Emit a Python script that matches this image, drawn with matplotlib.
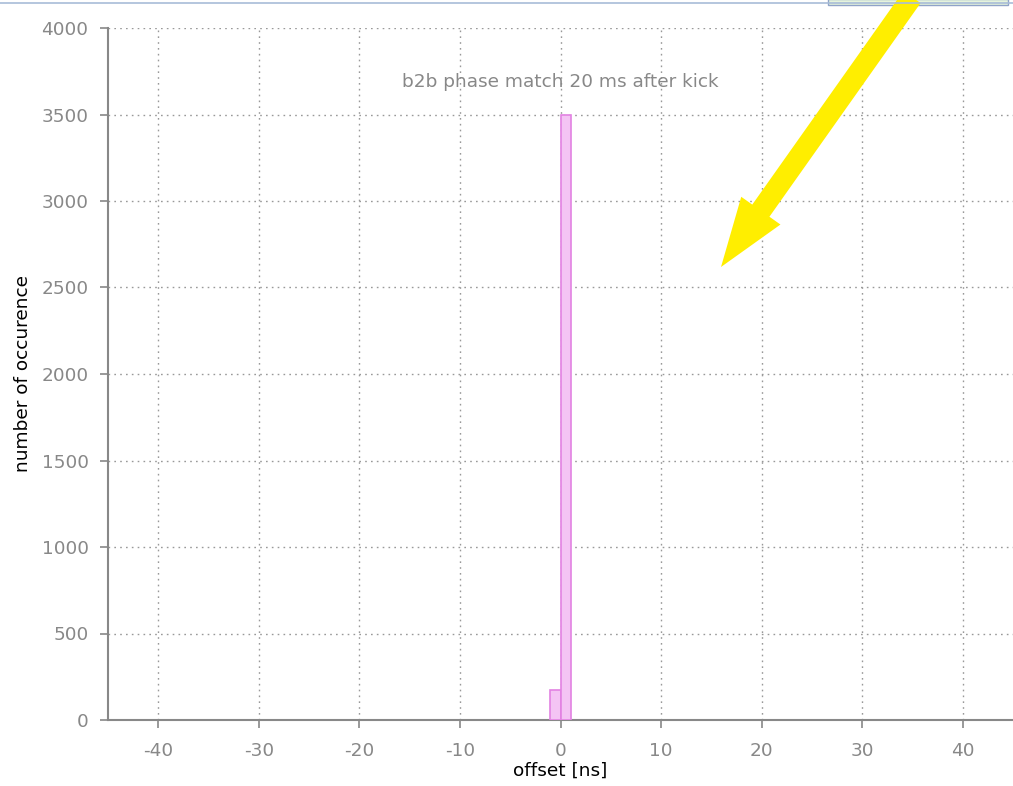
import matplotlib
matplotlib.use("Agg")
import matplotlib.pyplot as plt
from matplotlib.patches import FancyArrow, Rectangle
from matplotlib.transforms import IdentityTransform
from matplotlib.lines import Line2D

plt.rcParams["axes.unicode_minus"] = False

# data
bin_left = [-1, 0]
counts = [175, 3500]
bin_width = 1
x_ticks = [-40, -30, -20, -10, 0, 10, 20, 30, 40]
y_ticks = [0, 500, 1000, 1500, 2000, 2500, 3000, 3500, 4000]
title = "b2b phase match 20 ms after kick"

FS = 13.3
W, H = 1013, 786
fig = plt.figure(figsize=(W / 100, H / 100), dpi=100)
ax = fig.add_axes([108 / W, 1 - 720 / H, 1 - 108 / W, (720 - 28) / H])

ax.bar(bin_left, counts, width=bin_width, align="edge",
       facecolor="#f4c4f4", edgecolor="#e282e2", linewidth=1.2, zorder=3)

ax.set_xlim(-45, 45)
ax.set_ylim(0, 4000)
ax.set_xticks(x_ticks)
ax.set_yticks(y_ticks)
ax.grid(True, linestyle=(0, (1.2, 3)), color="#999999", linewidth=1.0)
for s in ["top", "right"]:
    ax.spines[s].set_visible(False)
for s in ["left", "bottom"]:
    ax.spines[s].set_color("#888888")
    ax.spines[s].set_linewidth(1.5)
ax.tick_params(axis="both", colors="#888888", labelcolor="#888888",
               labelsize=FS, length=6, width=1.2)
ax.tick_params(axis="x", pad=10)
ax.tick_params(axis="y", pad=8)
ax.set_xlabel("offset [ns]", fontsize=FS, color="black", labelpad=1)
ax.set_ylabel("number of occurence", fontsize=FS, color="black", labelpad=7)
ax.text(0, 3690, title, ha="center", va="center", fontsize=FS, color="#888888")

# top frame remnant
fig.add_artist(Line2D([0, 1], [1 - 3 / H, 1 - 3 / H], transform=fig.transFigure,
                      color="#a8bcd8", linewidth=1.2))
fig.add_artist(Rectangle((828 / W, 1 - 5 / H), 180 / W, 6 / H, transform=fig.transFigure,
                         facecolor="#e6f4dc", edgecolor="#8fa3c8", linewidth=1))

# yellow arrow annotation (display pixel coords)
arrow = FancyArrow(912, H + 3, -191, -270, width=21, head_width=48, head_length=69,
                   length_includes_head=True, transform=IdentityTransform(),
                   facecolor="#ffee00", edgecolor="none")
fig.add_artist(arrow)

fig.savefig("out.png", dpi=100)
